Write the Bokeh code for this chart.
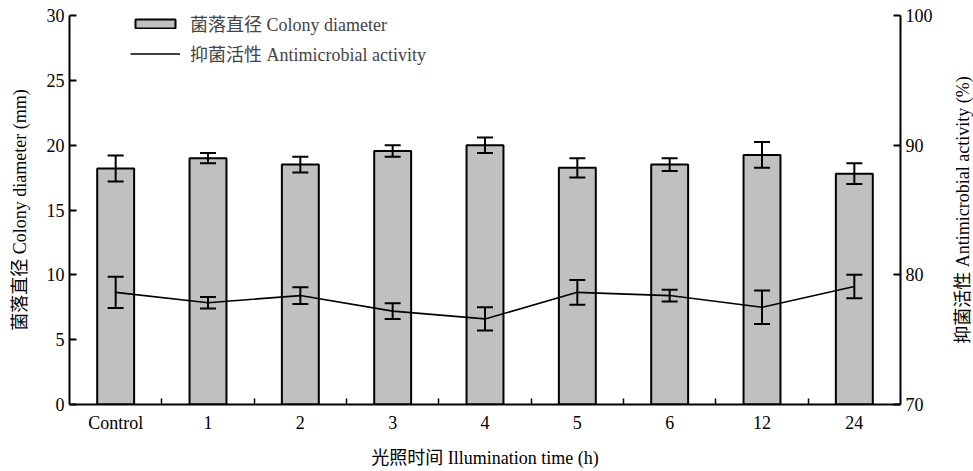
import numpy as np
from bokeh.plotting import figure
from bokeh.models import (ColumnDataSource, Range1d, LinearAxis, FixedTicker,
                          Legend, LegendItem, Label)
from bokeh.embed import file_html
from bokeh.resources import INLINE

categories = ["Control", "1", "2", "3", "4", "5", "6", "12", "24"]
diameter = [18.2, 19.0, 18.5, 19.55, 20.0, 18.25, 18.5, 19.25, 17.8]
diameter_err = [1.0, 0.4, 0.6, 0.45, 0.6, 0.75, 0.5, 1.0, 0.8]
activity = [78.65, 77.85, 78.4, 77.2, 76.6, 78.65, 78.4, 77.5, 79.1]
activity_err = [1.2, 0.45, 0.65, 0.6, 0.9, 0.95, 0.45, 1.3, 0.9]
left_ticks = [0, 5, 10, 15, 20, 25, 30]
right_ticks = [70, 80, 90, 100]

FONT = "'Liberation Serif', 'Noto Sans CJK SC'"
FS = "18px"

xpos = np.arange(len(categories)) + 0.5
d = np.array(diameter); de = np.array(diameter_err)
a = np.array(activity); ae = np.array(activity_err)

src = ColumnDataSource(dict(x=xpos, d=d, dlo=d - de, dhi=d + de,
                            a=a, alo=a - ae, ahi=a + ae))

FW, FH = 831, 389
p = figure(frame_width=FW, frame_height=FH, output_backend="svg", toolbar_location=None,
           x_range=Range1d(0, len(categories)), y_range=Range1d(0, 30),
           min_border_left=69, min_border_right=73, min_border_top=15, min_border_bottom=67)
p.extra_y_ranges = {"act": Range1d(70, 100)}
p.outline_line_color = None
p.xgrid.visible = False
p.ygrid.visible = False

bars = p.vbar(x="x", top="d", bottom=0, width=0.4, source=src,
              fill_color="#c0c0c0", line_color="black", line_width=2)
p.segment(x0="x", y0="dlo", x1="x", y1="dhi", source=src, line_color="black", line_width=2)
p.scatter(x="x", y="dlo", source=src, marker="dash", size=16, line_color="black", line_width=2)
p.scatter(x="x", y="dhi", source=src, marker="dash", size=16, line_color="black", line_width=2)

line = p.line(x="x", y="a", source=src, y_range_name="act",
              line_color="black", line_width=1.6)
p.segment(x0="x", y0="alo", x1="x", y1="ahi", source=src, y_range_name="act",
          line_color="black", line_width=2)
p.scatter(x="x", y="alo", source=src, y_range_name="act", marker="dash", size=16,
          line_color="black", line_width=2)
p.scatter(x="x", y="ahi", source=src, y_range_name="act", marker="dash", size=16,
          line_color="black", line_width=2)

# X axis
xa = p.xaxis[0]
xa.ticker = FixedTicker(ticks=list(xpos), minor_ticks=list(np.arange(1, len(categories))))
xa.major_label_overrides = {float(x): c for x, c in zip(xpos, categories)}
xa.minor_tick_in = 6
xa.minor_tick_out = 0
xa.minor_tick_line_width = 1.5
xa.major_label_standoff = 2
xa.axis_label = "光照时间 Illumination time (h)"
xa.axis_label_standoff = 12

# Left axis
ya = p.yaxis[0]
ya.ticker = FixedTicker(ticks=left_ticks)
ya.major_tick_in = 7
ya.major_tick_out = 0
ya.axis_label = "菌落直径 Colony diameter (mm)"
ya.axis_label_standoff = 14

# Right axis (label drawn separately so it reads bottom-to-top)
ra = LinearAxis(y_range_name="act", ticker=FixedTicker(ticks=right_ticks))
ra.major_tick_in = 7
ra.major_tick_out = 0
p.add_layout(ra, "right")

for ax in [xa, ya, ra]:
    ax.axis_line_width = 2
    ax.major_tick_line_width = 2
    ax.major_label_text_font = FONT
    ax.major_label_text_font_size = FS
    ax.major_label_text_color = "black"
    ax.axis_label_text_font = FONT
    ax.axis_label_text_font_size = FS
    ax.axis_label_text_font_style = "normal"
    ax.axis_label_text_color = "black"
    ax.axis_line_color = "black"
    ax.major_tick_line_color = "black" if ax is not xa else None
    ax.minor_tick_line_color = "black" if ax is xa else None

p.add_layout(Label(x=27, y=FH / 2, x_units="screen", y_units="screen",
                   text="抑菌活性 Antimicrobial activity (%)", angle=np.pi / 2,
                   text_align="center", text_baseline="middle",
                   text_font=FONT, text_font_size=FS, text_color="black"), "right")

legend = Legend(items=[LegendItem(label="菌落直径 Colony diameter", renderers=[bars]),
                       LegendItem(label="抑菌活性 Antimicrobial activity", renderers=[line])],
                location=(61, 338), glyph_width=50, glyph_height=11, label_height=20,
                spacing=4, padding=0, margin=0, label_standoff=10,
                border_line_color=None, background_fill_alpha=0,
                label_text_font=FONT, label_text_font_size=FS)
p.add_layout(legend)

open("out.html", "w").write(file_html(p, INLINE))
